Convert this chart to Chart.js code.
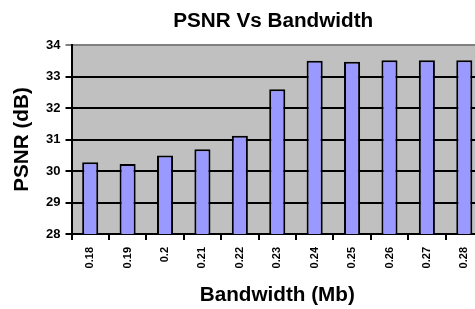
<!DOCTYPE html>
<html>
<head>
<meta charset="utf-8">
<script src="https://cdn.jsdelivr.net/npm/chart.js@4"></script>
<style>
  html, body { margin: 0; padding: 0; background: #fff; overflow: hidden; }
  #wrap { width: 490px; height: 309px; }
</style>
</head>
<body>
<div id="wrap"><canvas id="psnr-chart" width="490" height="309"></canvas></div>
<script>
var bandwidths = ['0.18', '0.19', '0.2', '0.21', '0.22', '0.23', '0.24', '0.25', '0.26', '0.27', '0.28'];
var psnrValues = [30.28, 30.22, 30.49, 30.69, 31.12, 32.6, 33.5, 33.47, 33.52, 33.52, 33.52];
var yTicks = [28, 29, 30, 31, 32, 33, 34];

var titleFont = { family: 'Liberation Sans', size: 20.7, weight: 'bold' };

// grey plot area, and title centred over the plot instead of the whole canvas
var plotBackground = {
    id: 'plotBackground',
    afterLayout: function(chart) {
        if (chart.titleBlock) {
            chart.titleBlock.left = chart.chartArea.left;
            chart.titleBlock.right = chart.chartArea.right - 8;
        }
    },
    beforeDraw: function(chart) {
        var a = chart.chartArea;
        var ctx = chart.ctx;
        ctx.save();
        ctx.fillStyle = '#c0c0c0';
        ctx.fillRect(a.left, a.top, a.right - a.left, a.bottom - a.top);
        ctx.restore();
    }
};

var ctx = document.getElementById('psnr-chart').getContext('2d');
var chart = new Chart(ctx, {
    type: 'bar',
    data: {
        labels: bandwidths,
        datasets: [{
            label: 'PSNR',
            data: psnrValues,
            backgroundColor: '#9999ff',
            borderColor: '#000000',
            borderWidth: 2,
            borderSkipped: 'bottom',
            barPercentage: 0.43,
            categoryPercentage: 1
        }]
    },
    options: {
        responsive: false,
        animation: false,
        layout: { padding: { top: 0, right: 7, bottom: 0, left: 0 } },
        plugins: {
            legend: { display: false },
            tooltip: { enabled: false },
            title: {
                display: true,
                text: 'PSNR Vs Bandwidth',
                color: '#000',
                font: titleFont,
                padding: { top: 8.6, bottom: 11.6 }
            }
        },
        scales: {
            x: {
                offset: true,
                afterFit: function(scale) { scale.height = 75; },
                grid: { offset: true, drawOnChartArea: false, color: '#000', lineWidth: 2, tickLength: 6 },
                border: { color: '#000', width: 2 },
                ticks: {
                    color: '#000',
                    font: { family: 'Liberation Sans', size: 11, weight: 'bold' },
                    minRotation: 90,
                    maxRotation: 90,
                    padding: 7
                },
                title: {
                    display: true,
                    text: 'Bandwidth (Mb)',
                    color: '#000',
                    font: titleFont,
                    padding: { top: 0, bottom: 1 }
                }
            },
            y: {
                min: yTicks[0],
                max: yTicks[yTicks.length - 1],
                afterFit: function(scale) { scale.width = 71.5; },
                afterBuildTicks: function(scale) {
                    scale.ticks = yTicks.map(function(v) { return { value: v }; });
                },
                grid: {
                    color: function(c) { return c.tick && c.tick.value === 34 ? '#808080' : '#000'; },
                    lineWidth: 2,
                    tickLength: 6
                },
                border: { color: '#000', width: 2 },
                ticks: {
                    color: '#000',
                    font: { family: 'Liberation Sans', size: 13, weight: 'bold' },
                    padding: 5
                },
                title: {
                    display: true,
                    text: 'PSNR (dB)',
                    color: '#000',
                    font: titleFont,
                    padding: { top: 9.5, bottom: 0 }
                }
            }
        }
    },
    plugins: [plotBackground]
});
</script>
</body>
</html>
